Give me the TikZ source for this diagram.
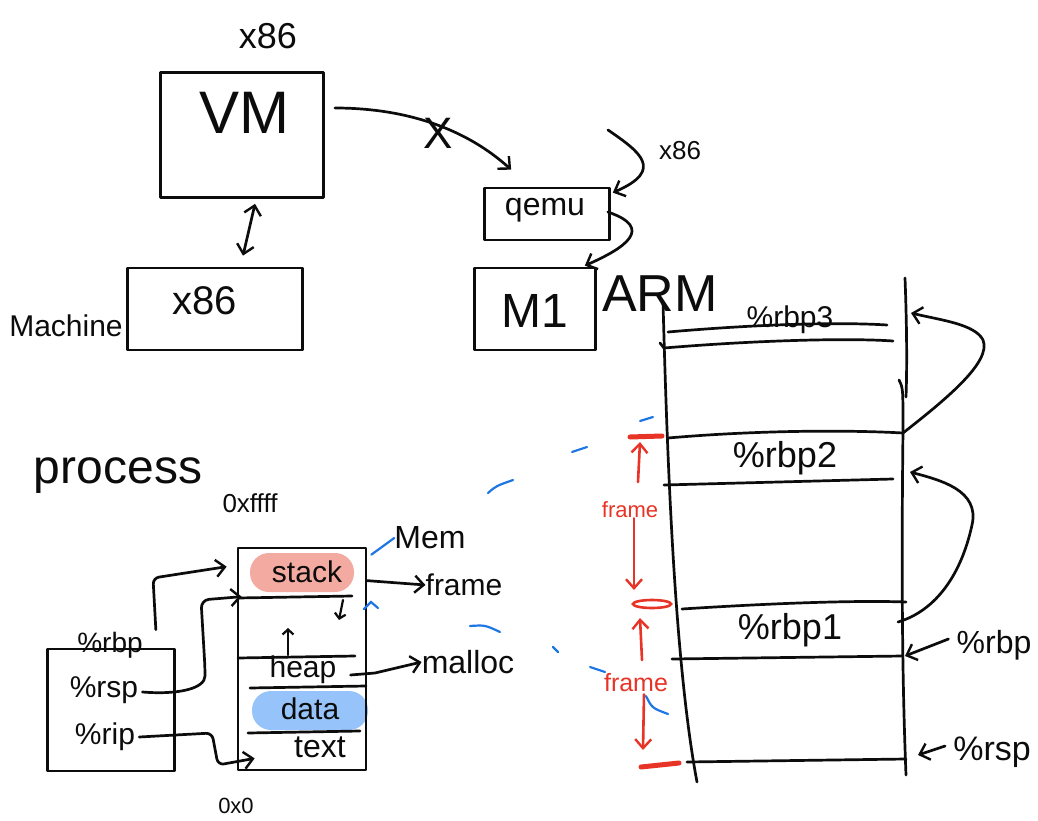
\documentclass[tikz,border=0pt]{standalone}
\usepackage{fontspec}
\setmainfont{Liberation Sans}
\usetikzlibrary{arrows.meta,calc}
\definecolor{ink}{RGB}{12,12,12}
\definecolor{pen}{RGB}{232,52,38}
\definecolor{hl}{RGB}{30,118,228}
\definecolor{stackfill}{RGB}{243,170,160}
\definecolor{datafill}{RGB}{150,196,250}
\tikzset{
  fs/.style={font=\fontsize{#1}{#1}\selectfont},
  inkline/.style={draw=ink, line width=2.7pt, line cap=round, line join=round},
  box/.style={inkline, rectangle, inner sep=0pt},
  lbl/.style={inner sep=0pt, text=ink},
  redlbl/.style={inner sep=0pt, text=pen},
  conn/.style={inkline, -{Straight Barb[length=9pt,width=17pt,line width=2.4pt]}},
  dconn/.style={inkline, {Straight Barb[length=9pt,width=17pt,line width=2.4pt]}-{Straight Barb[length=9pt,width=17pt,line width=2.4pt]}},
  smallconn/.style={inkline, line width=2.2pt, -{Straight Barb[length=5pt,width=11pt,line width=2.2pt]}},
  redconn/.style={draw=pen, line width=2.6pt, line cap=round, -{Straight Barb[length=9pt,width=16pt,line width=2.4pt]}},
  redbar/.style={draw=pen, line width=5pt, line cap=round},
  bluemark/.style={draw=hl, line width=2.2pt, line cap=round},
}
\begin{document}
\begin{tikzpicture}[x=1pt,y=-1pt]
\path[use as bounding box, fill=white] (0,0) rectangle (1038,821);

% ---------- virtual machine on an x86 host ----------
\node[lbl, fs=36] (vmarch) at (268,36) {x86};
\node[box, minimum width=163pt, minimum height=125pt] (vm) at (242,135) {};
\node[lbl, fs=60] (vmlabel) at (244,113) {VM};
\node[box, minimum width=175pt, minimum height=82pt] (mach) at (215,309) {};
\node[lbl, fs=40] (machlabel) at (205,301) {x86};
\node[lbl, fs=30] (machname) at (66,326) {Machine};
\draw[dconn] ($(vm.south)+(13,5)$) -- ($(mach.north)+(28,-11)$);

% ---------- qemu on an ARM host ----------
\node[box, minimum width=125pt, minimum height=52pt] (qemu) at (547,214) {};
\node[lbl, fs=32] (qemulabel) at (545,210) {qemu};
\node[box, minimum width=121pt, minimum height=82pt] (m1) at (535,309) {};
\node[lbl, fs=48] (m1label) at (535,311) {M1};
\node[lbl, fs=52] (armlabel) at (660,294) {ARM};
\node[lbl, fs=26] (qarch) at (680,151) {x86};
\coordinate (qin) at (608,130);

\draw[conn] ($(vm.east)+(10,-27)$) .. controls (405,108) and (465,128) .. ($(qemu.north west)+(28,-17)$)
  node[lbl, fs=44, pos=0.52, yshift=-9pt, xshift=3pt] (cross) {X};
\draw[conn] (qin) .. controls (640,152) and (665,170) .. ($(qemu.north east)+(2,6)$);
\draw[conn] ($(qemu.east)+(-3,-2)$) .. controls (655,228) and (625,248) .. ($(m1.north east)+(-12,-1)$);

% ---------- call stack with frame pointers ----------
\draw[inkline] (663,302) .. controls (667,450) and (674,660) .. (697,782);
\draw[inkline] (905,278) .. controls (907,330) and (907,370) .. (906,397);
\draw[inkline] (899,380) .. controls (903,388) .. (903,430) .. controls (901,600) and (903,700) .. (906,775);

\draw[inkline] (668,332) .. controls (760,324) and (840,322) .. (887,325);
\draw[inkline] (660,343) -- (664,348) .. controls (760,340) and (850,338) .. (893,341);
\draw[inkline] (668,438) .. controls (760,430) and (850,430) .. (903,433);
\draw[inkline] (664,485) -- (893,479);
\draw[inkline] (682,609) .. controls (760,604) and (850,600) .. (906,602);
\draw[inkline] (672,659) -- (903,656);
\draw[inkline] (687,762) -- (906,759);

\node[lbl, fs=30] (rbp3) at (790,320) {\%rbp3};
\node[lbl, fs=36] (rbp2) at (785,458) {\%rbp2};
\node[lbl, fs=36] (rbp1) at (790,630) {\%rbp1};
\node[lbl, fs=32] (rbpreg) at (994,645) {\%rbp};
\node[lbl, fs=34] (rspreg) at (992,752) {\%rsp};

\draw[conn] (903,433) .. controls (945,400) and (992,362) .. (983,340) .. controls (975,324) and (940,320) .. (911,313);
\draw[conn] (898,622) .. controls (932,612) and (960,580) .. (972,525) .. controls (980,490) and (940,480) .. (910,472);
\draw[conn] (rbpreg.west) ++(-8,-6) -- (905,656);
\draw[conn] (rspreg.west) ++(-8,-6) -- (918,755);

% frame extents
\draw[redbar] (630,437) -- (662,436);
\draw[redconn] (638,482) -- (640,442);
\node[redlbl, fs=22] (frame1) at (630,510) {frame};
\draw[redconn] (frame1.south) ++(4,0) -- (634,590);
\draw[pen, line width=2.6pt] (652,604) ellipse [x radius=19, y radius=4];
\draw[redconn] (642,660) -- (640,618);
\node[redlbl, fs=25] (frame2) at (636,683) {frame};
\draw[redconn] (frame2.south) ++(8,2) -- (643,750);
\draw[redbar] (641,767) -- (679,763);

% pen marks
\draw[bluemark] (640,421) -- (653,417);
\draw[bluemark] (572,452) -- (587,447);
\draw[bluemark] (488,493) .. controls (496,486) .. (513,480);
\draw[bluemark] (470,626) .. controls (485,625) .. (500,632);
\draw[bluemark] (553,647) -- (558,652);
\draw[bluemark] (590,667) -- (605,672);
\draw[bluemark] (646,696) .. controls (652,708) .. (668,714);

% ---------- process address space ----------
\node[lbl, fs=48] (proc) at (118,476) {process};
\node[lbl, fs=26] (top) at (250,503) {0xffff};
\node[lbl, fs=22] (bottom) at (236,806) {0x0};

\fill[stackfill, rounded corners=19pt] (250,553) rectangle (354,592);
\fill[datafill, rounded corners=19pt] (252,691) rectangle (368,730);
\node[box, minimum width=128pt, minimum height=222pt] (mem) at (302,659) {};
\draw[inkline] (238,598) -- (352,596);
\draw[inkline] (238,658) -- (355,656);
\draw[inkline] (250,688) -- (366,686);
\draw[inkline] (248,733) -- (360,731);
\node[lbl, fs=30] (stack) at (307,572) {stack};
\node[lbl, fs=30] (heap) at (303,670) {heap};
\node[lbl, fs=30] (data) at (310,709) {data};
\node[lbl, fs=32] (text) at (320,747) {text};
\draw[smallconn] (343,600) -- (339,620);
\draw[smallconn] (288,655) -- (288,628);

\node[lbl, fs=32] (memlabel) at (430,538) {Mem};
\draw[bluemark] ($(mem.north east)+(4,8)$) -- (memlabel.west);
\draw[bluemark] (364,609) -- (371,602) -- (378,608);
\node[lbl, fs=30] (framelbl) at (464,585) {frame};
\node[lbl, fs=32] (malloc) at (468,662) {malloc};
\draw[conn] ($(mem.north east)+(0,34)$) -- (framelbl.west);
\draw[conn] (heap.east) ++(14,5) -- (375,673) -- (malloc.west);

% registers
\node[box, minimum width=127pt, minimum height=122pt] (regs) at (111,710) {};
\node[lbl, fs=28] (rbp) at (110,645) {\%rbp};
\node[lbl, fs=30] (rsp) at (104,690) {\%rsp};
\node[lbl, fs=30] (rip) at (105,737) {\%rip};

\draw[conn, rounded corners=6pt] ($(regs.north east)+(-20,-18)$) -- (153,578) -- ($(mem.north west)+(-10,20)$);
\draw[conn, rounded corners=8pt] (rsp.east) ++(4,2) .. controls (180,695) and (205,688) .. (205,668) -- (201,600) -- ($(mem.north west)+(5,50)$);
\draw[conn, rounded corners=6pt] (rip.east) ++(4,0) -- (212,733) -- (218,765) -- ($(mem.south west)+(18,-13)$);
\end{tikzpicture}
\end{document}
